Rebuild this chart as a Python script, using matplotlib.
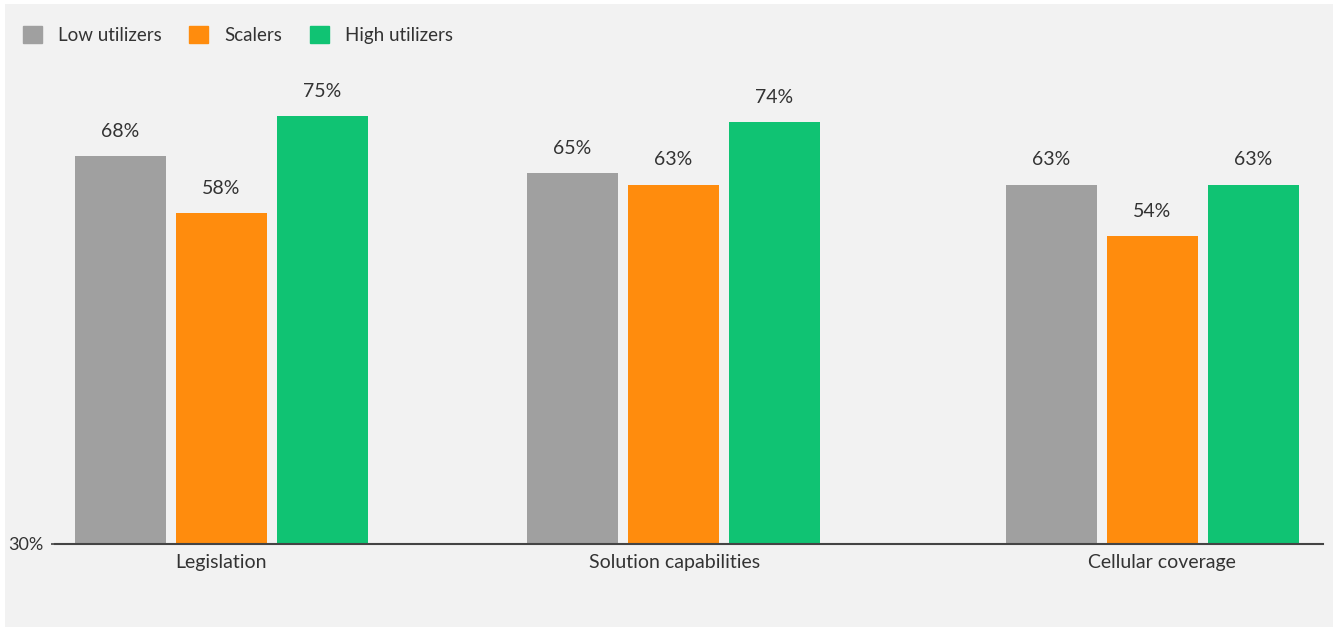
import matplotlib.pyplot as plt
import matplotlib.patches as mpatches
import numpy as np

categories = ["Legislation", "Solution capabilities", "Cellular coverage"]
series_names = ["Low utilizers", "Scalers", "High utilizers"]
low_utilizers = [68, 65, 63]
scalers = [58, 63, 54]
high_utilizers = [75, 74, 63]
ytick_labels = ["30%"]

colors = ["#a0a0a0", "#ff8c0d", "#10c373"]
text_color = "#333333"

plt.rcParams["font.family"] = ["Lato", "DejaVu Sans"]

W, H = 1338, 627
fig = plt.figure(figsize=(W / 100, H / 100), dpi=100)
fig.patch.set_facecolor("white")

# gray panel behind everything
panel = mpatches.Rectangle((5 / W, 0), 1328 / W, 1 - 4 / H,
                           transform=fig.transFigure,
                           facecolor="#f2f2f2", edgecolor="none", zorder=-10)
fig.add_artist(panel)

ax = fig.add_axes([55 / W, 1 - 544 / H, 1268 / W, 485 / H])
ax.set_facecolor("none")
ax.set_zorder(1)

# group centres in pixel-ish units along the axis
centres = np.array([166, 618, 1097])
offset = 101
width = 91

series = [low_utilizers, scalers, high_utilizers]
for i, vals in enumerate(series):
    xs = centres + (i - 1) * offset
    bars = ax.bar(xs, vals, width=width, color=colors[i], zorder=2)
    for b, v in zip(bars, vals):
        ax.text(b.get_x() + b.get_width() / 2, v + 4.3, f"{v}%",
                ha="center", va="center", fontsize=14, color=text_color)

ax.set_xlim(0, 1268)
ax.set_ylim(0, 85)
ax.set_xticks(centres + np.array([0, 2, 10]))
ax.set_xticklabels(categories, fontsize=14, color=text_color)
ax.tick_params(axis="x", length=0, pad=7)
ax.set_yticks([0])
ax.set_yticklabels(ytick_labels, fontsize=13, color=text_color)
ax.tick_params(axis="y", length=3, width=1.2, color="#444444", pad=5)

for s in ["top", "right", "left"]:
    ax.spines[s].set_visible(False)
ax.spines["bottom"].set_color("#444444")
ax.spines["bottom"].set_linewidth(1.5)

handles = [mpatches.Patch(color=c, label=n) for c, n in zip(colors, series_names)]
leg = fig.legend(handles=handles, loc="upper left",
                 bbox_to_anchor=(6 / W, 1 - 9 / H),
                 ncol=3, frameon=False, fontsize=13.5, handlelength=1.0,
                 handleheight=1.0, handletextpad=0.85, columnspacing=1.5,
                 labelcolor=text_color)
leg.set_zorder(2)

fig.savefig("out.png", dpi=100)
